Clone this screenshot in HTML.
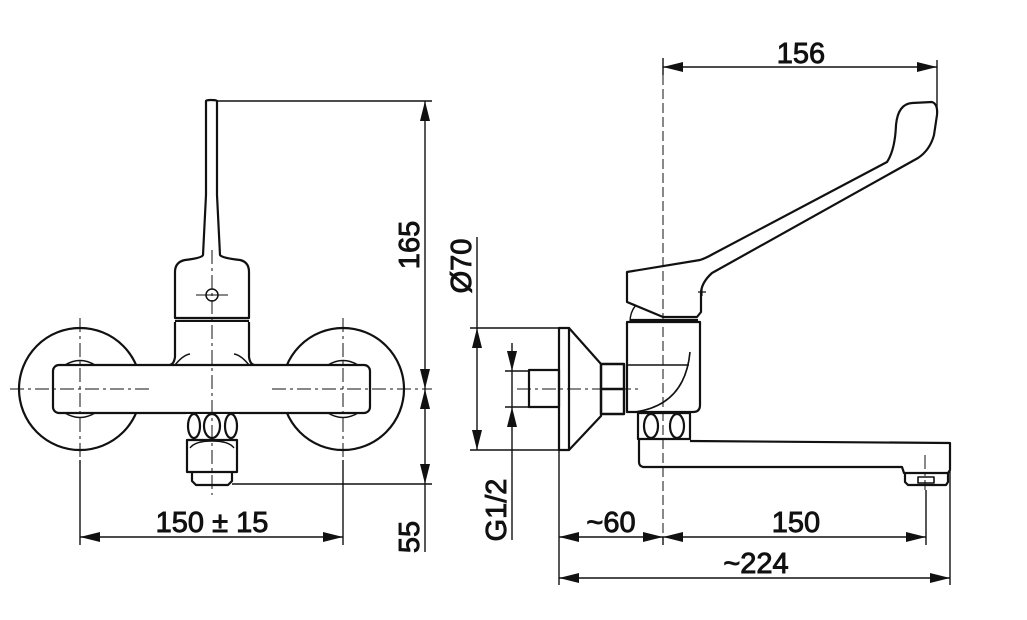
<!DOCTYPE html>
<html><head><meta charset="utf-8"><style>
html,body{margin:0;padding:0;background:#fff;}
svg{display:block;}
text{font-family:"Liberation Sans",Arial,sans-serif;font-size:29px;fill:#111;stroke:#111;stroke-width:0.9;}
</style></head><body>
<svg width="1027" height="620" viewBox="0 0 1027 620" xmlns="http://www.w3.org/2000/svg">
<defs>
<marker id="a" markerWidth="20" markerHeight="10" refX="20" refY="5" orient="auto-start-reverse" markerUnits="userSpaceOnUse">
<path d="M0,0 L20,5 L0,10 z" fill="#111"/>
</marker>
</defs>
<g fill="none" stroke="#111" stroke-width="2.2" stroke-linejoin="round">
<circle cx="80" cy="389" r="61"/>
<circle cx="343" cy="389" r="61"/>
<path d="M206,101 Q206,100 211,100 Q217,100 217,101 L217,195 L220,255 Q222,258 240,260 Q249,262 249,272 L249,318 L175,318 L175,272 Q175,262 185,260 Q202,258 203,255 L206,195 Z" fill="#fff"/>
<line x1="175" y1="321" x2="249" y2="321"/>
<path d="M175,322 L175,357 Q175,365 170,367 L249,367 Q249,360 249,322 Z" fill="#fff" stroke="none"/>
<path d="M175,322 L175,357 Q174,364 170,365 M249,322 L249,357 Q250,364 254,365"/>
<path d="M175,365 Q183,355 190,354 M249,365 Q241,355 234,354" stroke-width="1.5"/>
<rect x="53" y="365" width="317" height="48" rx="6" fill="#fff"/>
<path d="M65,365 Q80,356 95,365 M65,413 Q80,422 95,413 M328,365 Q343,356 358,365 M328,413 Q343,422 358,413" stroke-width="1.5"/>
<rect x="186" y="414" width="53" height="24" fill="#fff" stroke="none"/>
<ellipse cx="194" cy="426" rx="6" ry="12"/>
<ellipse cx="212" cy="426" rx="8" ry="12"/>
<ellipse cx="231" cy="426" rx="6" ry="12"/>
<path d="M187,440 L237,440 L237,472 L187,472 Z"/>
<path d="M190,448 Q195,441 212,441 Q229,441 234,448" stroke-width="1.4"/>
<path d="M192,472 L192,481 L196,485 L228,485 L232,481 L232,472"/>
<circle cx="212" cy="295" r="6" stroke-width="1.5"/>
<path d="M559,328 L569,328 L569,450 L559,450 Z"/>
<path d="M569,328 L601,364 L601,416 L569,450"/>
<path d="M529,370 L559,370 L559,407 L529,407 Z"/>
<path d="M601,364 L624,364 L624,414 L601,414 Z M601,389 L624,389" stroke-width="2.4"/>
<path d="M627,322 L700,322 L700,405 Q700,412 693,412 L627,412 Z" fill="#fff"/>
<path d="M627,365 L689,365 M690,352 Q685,405 635,412" stroke-width="1.6"/>
<path d="M627,272 L700,260 Q706,258 713,254 L887,162 Q895,150 896,125 Q898,104 912,103 L932,102 Q938,104 937,115 L934,135 Q930,150 918,158 L712,273 Q702,282 701,292 L701,312 L697,317 L663,317 L627,302 Z"/>
<line x1="630" y1="320" x2="698" y2="320"/>
<path d="M636,305 Q630,312 630,322" stroke-width="1.4"/>
<path d="M698,292 L706,292 M702,288 L702,296" stroke-width="1.2"/>
<rect x="638" y="413" width="52" height="26"/>
<ellipse cx="651" cy="426" rx="7" ry="12"/>
<ellipse cx="677" cy="426" rx="7" ry="12"/>
<path d="M639,439 L639,462 Q639,466 643,467 L902,467 L904,473 L948,473 L950,470 L950,443 L690,441"/>
<path d="M905,473 L905,482 L908,485 L946,485 L948,482 L948,473"/>
<rect x="918" y="477" width="16" height="6" stroke-width="1.6"/>
</g>
<g fill="none" stroke="#111" stroke-width="1" stroke-dasharray="14,4,3,4">
<line x1="212" y1="250" x2="212" y2="495"/>
<line x1="10" y1="389" x2="152" y2="389"/>
<line x1="272" y1="389" x2="432" y2="389"/>
<line x1="80" y1="318" x2="80" y2="460"/>
<line x1="343" y1="318" x2="343" y2="460"/>
<line x1="196" y1="295" x2="228" y2="295" stroke-dasharray="none"/>
<line x1="517" y1="389" x2="640" y2="389"/>
<line x1="663" y1="75" x2="663" y2="540" stroke-dasharray="10,4"/>
<line x1="925" y1="455" x2="925" y2="490"/>
</g>
<g fill="none" stroke="#111" stroke-width="1.4">
<line x1="217" y1="101" x2="432" y2="101"/>
<line x1="232" y1="484" x2="432" y2="484"/>
<line x1="425" y1="101" x2="425" y2="389" marker-start="url(#a)" marker-end="url(#a)"/>
<line x1="425" y1="484" x2="425" y2="389" marker-start="url(#a)" marker-end="url(#a)"/>
<line x1="425" y1="484" x2="425" y2="552"/>
<line x1="80" y1="460" x2="80" y2="545"/>
<line x1="343" y1="460" x2="343" y2="545"/>
<line x1="80" y1="537" x2="343" y2="537" marker-start="url(#a)" marker-end="url(#a)"/>
<line x1="470" y1="328" x2="560" y2="328"/>
<line x1="470" y1="450" x2="560" y2="450"/>
<line x1="477" y1="237" x2="477" y2="328"/>
<line x1="477" y1="328" x2="477" y2="450" marker-start="url(#a)" marker-end="url(#a)"/>
<line x1="505" y1="371" x2="530" y2="371"/>
<line x1="505" y1="407" x2="530" y2="407"/>
<line x1="512" y1="343" x2="512" y2="371" marker-end="url(#a)"/>
<line x1="512" y1="371" x2="512" y2="407"/>
<line x1="512" y1="540" x2="512" y2="407" marker-end="url(#a)"/>
<line x1="663" y1="58" x2="663" y2="75"/>
<line x1="937" y1="60" x2="937" y2="112"/>
<line x1="663" y1="67" x2="937" y2="67" marker-start="url(#a)" marker-end="url(#a)"/>
<line x1="559" y1="450" x2="559" y2="585"/>
<line x1="950" y1="470" x2="950" y2="585"/>
<line x1="926" y1="490" x2="926" y2="545"/>
<line x1="663" y1="537" x2="663" y2="545"/>
<line x1="559" y1="537" x2="663" y2="537" marker-start="url(#a)" marker-end="url(#a)"/>
<line x1="663" y1="537" x2="926" y2="537" marker-start="url(#a)" marker-end="url(#a)"/>
<line x1="559" y1="578" x2="950" y2="578" marker-start="url(#a)" marker-end="url(#a)"/>
</g>
<text x="212" y="532" text-anchor="middle">150 ± 15</text>
<text transform="translate(419,245) rotate(-90)" text-anchor="middle">165</text>
<text transform="translate(419,537) rotate(-90)" text-anchor="middle">55</text>
<text transform="translate(471,266) rotate(-90)" text-anchor="middle">Ø70</text>
<text transform="translate(506,510) rotate(-90)" text-anchor="middle">G1/2</text>
<text x="801" y="63" text-anchor="middle">156</text>
<text x="611" y="532" text-anchor="middle">~60</text>
<text x="796" y="532" text-anchor="middle">150</text>
<text x="756" y="573" text-anchor="middle">~224</text>
</svg>
</body></html>
